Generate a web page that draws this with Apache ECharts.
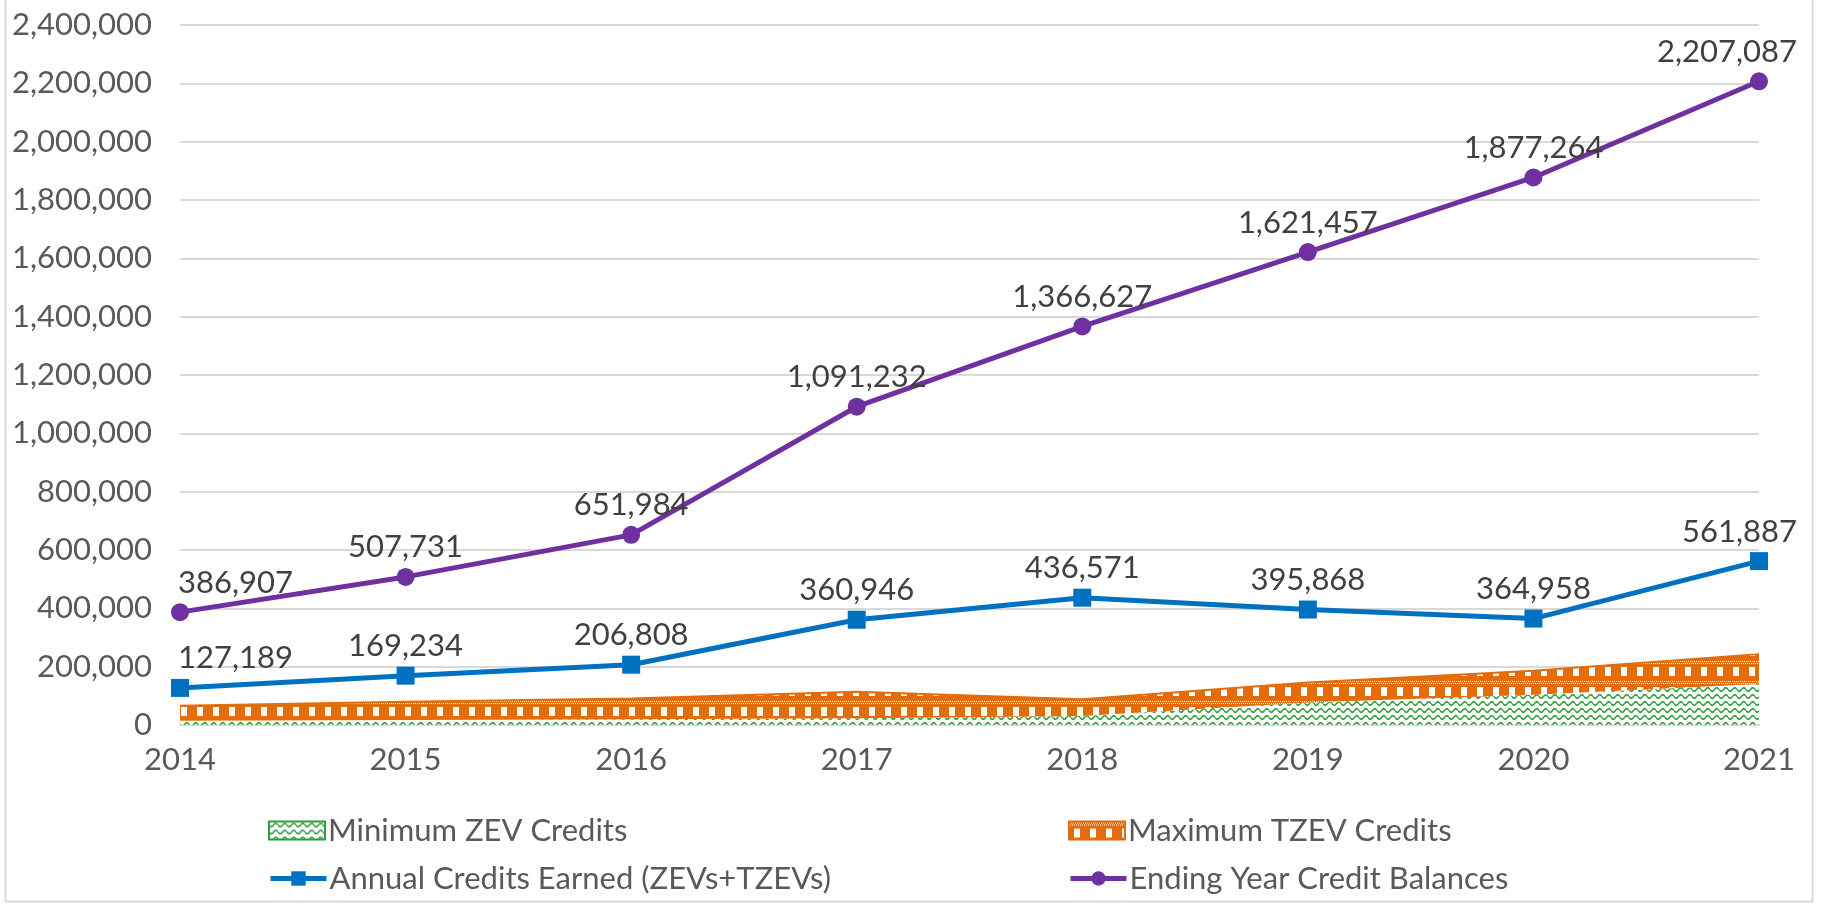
<!DOCTYPE html>
<html>
<head>
<meta charset="utf-8">
<title>ZEV credits</title>
<script src="https://cdn.jsdelivr.net/npm/echarts@6/dist/echarts.min.js"></script>
<style>
  html, body { margin: 0; padding: 0; background: #fff; }
  #chart { width: 1824px; height: 904px; }
</style>
</head>
<body>
<div id="chart"></div>
<script>
// data
var years = ['2014', '2015', '2016', '2017', '2018', '2019', '2020', '2021'];
var minZev = [15000, 17000, 20000, 23000, 31000, 77000, 104000, 141000];
var maxTzev = [51000, 63000, 71000, 91000, 57000, 69000, 82000, 102000];
var annualEarned = [127189, 169234, 206808, 360946, 436571, 395868, 364958, 561887];
var endingBalance = [386907, 507731, 651984, 1091232, 1366627, 1621457, 1877264, 2207087];
var yTicks = { min: 0, max: 2400000, interval: 200000 };

var GREEN = '#2f9e3c', ORANGE = '#e46c0a', BLUE = '#0070c0', PURPLE = '#7030a0';
var FONT = 'Lato';
var FS = 31;

// wavy green fill
function greenPattern() {
  var c = document.createElement('canvas');
  c.width = 9; c.height = 7;
  var g = c.getContext('2d');
  g.fillStyle = '#fff'; g.fillRect(0, 0, 9, 7);
  g.strokeStyle = GREEN; g.lineWidth = 1.5;
  g.beginPath();
  for (var x = 0; x <= 9; x += 0.5) {
    var y = 3.5 + 1.8 * Math.sin(x / 9 * Math.PI * 2);
    if (x === 0) g.moveTo(x, y); else g.lineTo(x, y);
  }
  g.stroke();
  return { image: c, repeat: 'repeat' };
}

// orange with white blocks and dotted rows
function orangePattern() {
  var c = document.createElement('canvas');
  c.width = 16; c.height = 20;
  var g = c.getContext('2d');
  g.fillStyle = ORANGE; g.fillRect(0, 0, 16, 20);
  g.fillStyle = '#fff';
  for (var x = 0; x < 16; x += 2) {
    g.fillRect(x, 1, 1, 1);
    g.fillRect(x + 1, 3, 1, 1);
  }
  g.fillRect(5, 7, 6, 9);
  return { image: c, repeat: 'repeat' };
}

var gPat = greenPattern(), oPat = orangePattern();

function fmt(v) { return echarts.format.addCommas(v); }

function labelled(values) {
  var last = values.length - 1;
  return values.map(function (v, i) {
    var d = { value: v };
    if (i === 0) d.label = { align: 'left', offset: [-2, 0] };
    if (i === last) d.label = { align: 'right', offset: [38, 0] };
    return d;
  });
}

var chart = echarts.init(document.getElementById('chart'));

var labelStyle = {
  show: true, position: 'top', distance: 5,
  fontFamily: FONT, fontSize: FS, color: '#404040',
  formatter: function (p) { return fmt(p.value); }
};

function legendAt(name, left, top, icon, itemStyle, lineStyle) {
  var item = { name: name, itemStyle: itemStyle };
  if (icon) item.icon = icon;
  if (lineStyle) item.lineStyle = lineStyle;
  return {
    left: left, top: top, orient: 'horizontal',
    itemWidth: 56, itemHeight: 18, itemGap: 0,
    selectedMode: false,
    textStyle: { fontFamily: FONT, fontSize: FS, color: '#595959', padding: [0, 0, 0, -2] },
    data: [item]
  };
}

var option = {
  animation: false,
  backgroundColor: '#fff',
  grid: { left: 180, right: 65, top: 25, bottom: 179, containLabel: false },
  graphic: [{
    type: 'rect', left: 3, top: -5, z: -1,
    shape: { width: 1807, height: 904 },
    style: { fill: 'none', stroke: '#d9d9d9', lineWidth: 2 }
  }],
  legend: [
    legendAt('Minimum ZEV Credits', 263, 810, 'rect', { color: gPat, borderColor: GREEN, borderWidth: 2 }),
    legendAt('Maximum TZEV Credits', 1063, 810, 'rect', { color: oPat, borderColor: ORANGE, borderWidth: 2 }),
    legendAt('Annual Credits Earned (ZEVs+TZEVs)', 263, 858, null, { color: BLUE }, { color: BLUE, width: 5 }),
    legendAt('Ending Year Credit Balances', 1063, 858, null, { color: PURPLE }, { color: PURPLE, width: 5 })
  ],
  xAxis: {
    type: 'category', data: years, boundaryGap: false,
    axisLine: { lineStyle: { color: '#d9d9d9', width: 2 } },
    axisTick: { show: false },
    axisLabel: { fontFamily: FONT, fontSize: FS, color: '#595959', margin: 19 }
  },
  yAxis: {
    type: 'value', min: yTicks.min, max: yTicks.max, interval: yTicks.interval,
    axisLine: { show: false }, axisTick: { show: false },
    splitLine: { lineStyle: { color: '#d9d9d9', width: 2 } },
    axisLabel: { fontFamily: FONT, fontSize: FS, color: '#595959', margin: 28, formatter: fmt }
  },
  series: [
    {
      name: 'Minimum ZEV Credits', type: 'line', stack: 'req', data: minZev,
      symbol: 'none', lineStyle: { width: 0 },
      itemStyle: { color: GREEN },
      areaStyle: { color: gPat, opacity: 1 }, z: 1
    },
    {
      name: 'Maximum TZEV Credits', type: 'line', stack: 'req', data: maxTzev,
      symbol: 'none', lineStyle: { width: 2, color: ORANGE },
      itemStyle: { color: ORANGE },
      areaStyle: { color: oPat, opacity: 1 }, z: 2
    },
    {
      name: 'Annual Credits Earned (ZEVs+TZEVs)', type: 'line', data: labelled(annualEarned),
      symbol: 'rect', symbolSize: 18,
      lineStyle: { width: 5, color: BLUE }, itemStyle: { color: BLUE },
      label: labelStyle, z: 3
    },
    {
      name: 'Ending Year Credit Balances', type: 'line', data: labelled(endingBalance),
      symbol: 'circle', symbolSize: 18,
      lineStyle: { width: 5, color: PURPLE }, itemStyle: { color: PURPLE },
      label: labelStyle, z: 4
    }
  ]
};

chart.setOption(option);
</script>
</body>
</html>
